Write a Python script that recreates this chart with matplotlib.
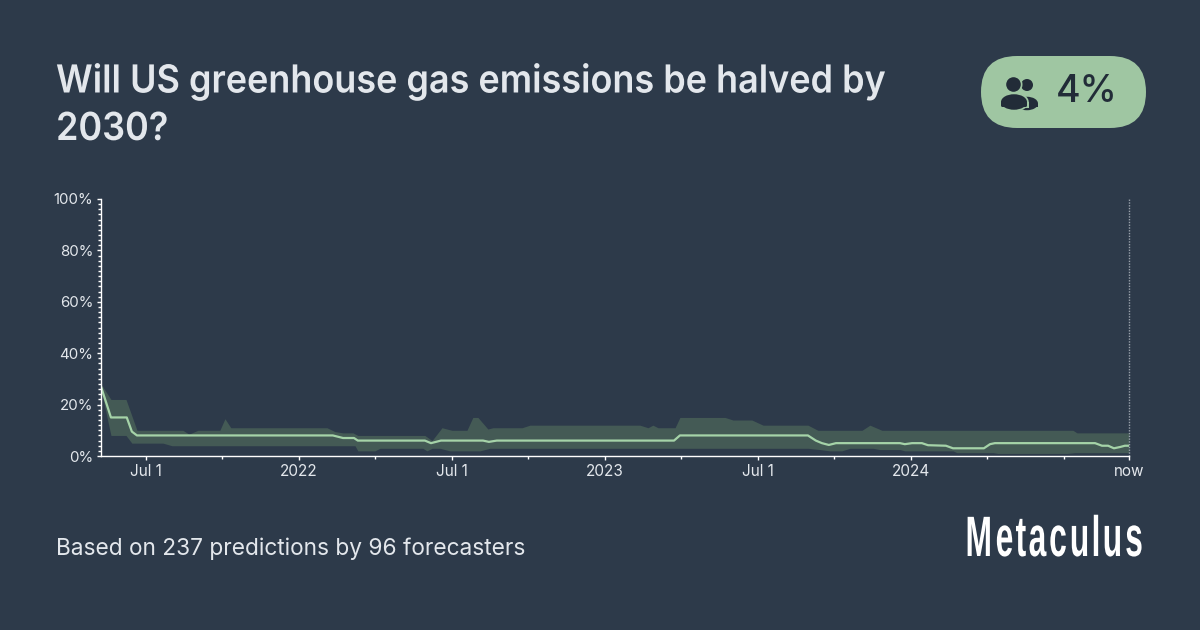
import matplotlib
matplotlib.use("Agg")
import matplotlib.pyplot as plt
from matplotlib.patches import FancyBboxPatch, Circle, Ellipse, Rectangle
from matplotlib.patheffects import AbstractPathEffect
from matplotlib.path import Path
from matplotlib.transforms import Affine2D
import numpy as np

TITLE = "Will US greenhouse gas emissions be halved by\n2030?"
FOOTER = "Based on 237 predictions by 96 forecasters"
BRAND = "Metaculus"
BADGE = "4%"

# x values: months since 1 Jul 2021
median_x = [-1.76,-1.37,-0.75,-0.55,-0.35,7.33,7.73,8.16,8.31,10.94,11.18,11.57,13.22,13.45,13.76,20.71,20.94,25.96,26.27,26.51,26.78,27.06,29.57,29.76,30.04,30.43,30.67,31.37,31.65,32.86,33.10,33.29,37.22,37.49,37.73,37.96,38.20,38.39,38.55]
median_y = [27,15,15,9.5,8,8,7,7,6,6,5,6,6,5.5,6,6,8,8,6,5,4.3,5,5,4.6,5,5,4.2,4,3,3,4.6,5,5,4,4,3,3.5,4,4]

upper_x = [-1.76,-1.37,-0.78,-0.35,1.45,1.69,2.04,2.90,3.10,3.33,7.10,7.41,7.73,8.12,8.31,10.94,11.22,11.61,12.0,12.59,12.82,13.02,13.41,13.61,14.75,15.06,19.37,19.69,19.88,20.08,20.75,20.94,22.71,23.02,23.76,24.20,25.96,26.35,28.08,28.39,28.86,36.35,36.51,38.55]
upper_y = [28,22,22,10,10,8.5,10,10,14.5,11,11,9.5,9,9,8,8,6,11,10,10,15,15,10.5,11,11,12,12,11,12,11,11,15,15,14,14,12,12,10,10,12,10,10,9,9]

lower_x = [-1.76,-1.37,-0.78,-0.55,0.67,1.02,8.20,8.31,8.98,9.18,10.86,11.02,11.22,11.53,11.92,13.10,13.49,25.96,26.43,26.82,27.29,27.61,28.51,28.78,29.57,29.76,31.65,31.80,33.22,33.41,36.12,36.43,38.55]
lower_y = [26,8,8,5,5,4,4,2,2,3,3,2,3,3,2,2,3,3,2.5,2,2,3,3,2.5,2.5,2,2,1.3,1.3,1,1,1.3,1.3]

major_x = [0,6,12,18,24,30,38.55]
major_labels = ["Jul 1","2022","Jul 1","2023","Jul 1","2024","now"]
minor_x = [3,9,15,21,27,33,36]
y_ticks = [0,20,40,60,80,100]
y_labels = ["0%","20%","40%","60%","80%","100%"]

BG = "#2d3a4a"
BAND = "#445a55"
LINE = "#a5d3a8"
PILL = "#9fc6a2"
DARK = "#222c38"
TEXT = "#e3e7ec"
TICK = "#ffffff"
FONT = "Inter"


class Squeeze(AbstractPathEffect):
    """Scale a text's outlines horizontally about a fixed pixel x; optionally
    also narrow each glyph about its own centre, which opens letter spacing."""
    def __init__(self, sx, x0_px, glyph_sx=1.0):
        super().__init__()
        self.sx, self.x0, self.glyph_sx = sx, x0_px, glyph_sx

    def _narrow(self, tpath):
        verts = np.array(tpath.vertices, dtype=float)
        codes = tpath.codes
        starts = list(np.where(codes == Path.MOVETO)[0]) + [len(codes)]
        spans = []
        for a, b in zip(starts[:-1], starts[1:]):
            keep = codes[a:b] != Path.CLOSEPOLY
            xs = verts[a:b][keep, 0]
            spans.append([xs.min(), xs.max(), a, b])
        spans.sort()
        groups, cur = [], None
        for s in spans:
            if cur is None or s[0] > cur["hi"]:
                cur = {"lo": s[0], "hi": s[1], "parts": []}
                groups.append(cur)
            cur["hi"] = max(cur["hi"], s[1])
            cur["parts"].append(s)
        for g in groups:
            mid = (g["lo"] + g["hi"]) / 2
            for _, _, a, b in g["parts"]:
                verts[a:b, 0] = mid + (verts[a:b, 0] - mid) * self.glyph_sx
        return Path(verts, codes)

    def draw_path(self, renderer, gc, tpath, affine, rgbFace=None):
        if self.glyph_sx != 1.0:
            tpath = self._narrow(tpath)
        t = affine + Affine2D().translate(-self.x0, 0).scale(self.sx, 1).translate(self.x0, 0)
        renderer.draw_path(gc, tpath, t, rgbFace)


fig = plt.figure(figsize=(12, 6.3), dpi=100, facecolor=BG)
ax = fig.add_axes([101/1200, (630-456)/630, 1028/1200, 257/630], facecolor=BG)

grid = np.union1d(upper_x, lower_x)
ax.fill_between(grid, np.interp(grid, lower_x, lower_y), np.interp(grid, upper_x, upper_y), color=BAND, lw=0)
ax.plot(median_x, median_y, color=LINE, lw=1.6, solid_joinstyle="round")
ax.axvline(major_x[-1], color="#9aa2ac", lw=1, ls=(0, (1, 1)), clip_on=False)

ax.set_xlim(min(median_x), max(median_x))
ax.set_ylim(0, 100)
for s in ["top", "right"]:
    ax.spines[s].set_visible(False)
for s in ["left", "bottom"]:
    ax.spines[s].set_color(TICK)
    ax.spines[s].set_linewidth(1)
ax.set_xticks(major_x, major_labels, family=FONT, fontsize=11, color=TEXT)
ax.set_xticks(minor_x, minor=True)
ax.set_yticks(y_ticks, y_labels, family=FONT, fontsize=10.8, color=TEXT)
ax.set_yticks(np.arange(0, 101, 2), minor=True)
ax.tick_params(axis="both", which="major", length=3, width=1, color=TICK, pad=2.5)
ax.tick_params(axis="both", which="minor", length=2, width=1, color=TICK)

ov = fig.add_axes([0, 0, 1, 1], facecolor="none")
ov.set_xlim(0, 1200); ov.set_ylim(630, 0); ov.axis("off")
for line, y in zip(TITLE.split("\n"), [92.5, 140]):
    ov.text(56, y, line, family=FONT, fontweight=600, fontsize=27.8, color=TEXT, va="baseline", ha="left",
            path_effects=[Squeeze(0.932, 56)])
ov.text(56, 549, FOOTER, family=FONT, fontsize=16.35, color=TEXT, va="center", ha="left")
ov.text(1054, 556, BRAND, family=["Liberation Sans Narrow", "Liberation Sans"], fontweight="bold", fontsize=41,
        color="white", va="baseline", ha="center", path_effects=[Squeeze(0.65, 1054, glyph_sx=0.86)])

ov.add_patch(FancyBboxPatch((981+36, 56+36), 165-72, 0, boxstyle="round,pad=36,rounding_size=36", fc=PILL, ec="none"))
ov.text(1087, 91.5, BADGE, family=FONT, fontweight=500, fontsize=27, color=DARK, va="center", ha="center")
# people icon: back figure, pill-coloured halo, front figure
ov.add_patch(Circle((1027, 85), 6, fc=DARK, ec="none"))
ov.add_patch(Ellipse((1027, 103.5), 22, 13.5, fc=DARK, ec="none"))
ov.add_patch(Rectangle((1027, 103.5), 11, 3.5, fc=DARK, ec="none"))
ov.add_patch(Circle((1013.5, 84.5), 9, fc=PILL, ec="none"))
ov.add_patch(Ellipse((1014, 102), 29.5, 19, fc=PILL, ec="none"))
ov.add_patch(Rectangle((999.5, 102), 29.5, 6, fc=PILL, ec="none"))
ov.add_patch(Circle((1013.5, 84.5), 7.3, fc=DARK, ec="none"))
ov.add_patch(Ellipse((1014, 102), 26, 15.5, fc=DARK, ec="none"))
ov.add_patch(FancyBboxPatch((1001, 102), 26, 5, boxstyle="round,pad=0,rounding_size=1.5", fc=DARK, ec="none"))

fig.savefig("out.png", dpi=100, facecolor=BG)
